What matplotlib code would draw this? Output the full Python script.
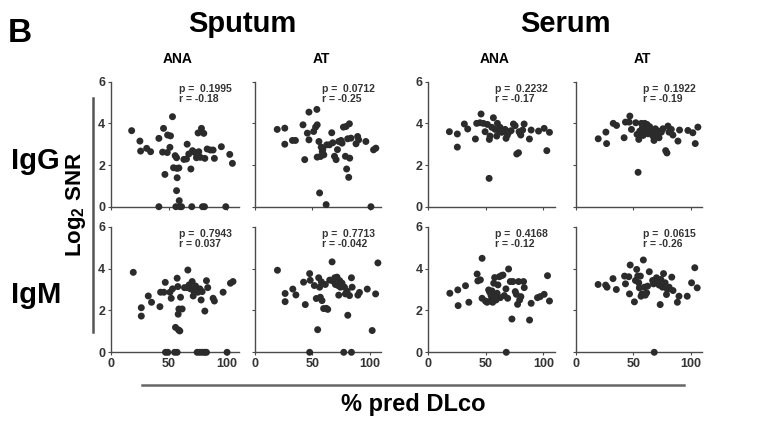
import matplotlib
matplotlib.use("Agg")
import matplotlib.pyplot as plt
from matplotlib.lines import Line2D

plt.rcParams["font.family"] = ["Liberation Sans", "DejaVu Sans"]
plt.rcParams["font.weight"] = "bold"
plt.rcParams["mathtext.fontset"] = "custom"
plt.rcParams["mathtext.rm"] = "Liberation Sans:bold"
plt.rcParams["mathtext.bf"] = "Liberation Sans:bold"

# ---- data: % predicted DLco (x) vs log2 SNR (y) ----
sputum_ana_igg_x = [18, 25.1, 25.7, 30.9, 34.3, 41.4, 41.4, 44.6, 45.4, 46.6, 48.9, 50.9, 51.4, 53.1,
                    54, 55.4, 56.6, 56.9, 57.1, 58.6, 56.6, 58.9, 56, 59.4, 60.9, 62.9, 65.7, 65.1,
                    67.1, 68.9, 69.7, 70.3, 72.3, 73.7, 75.1, 75.7, 77.1, 78, 78.9, 80.6, 80, 80.9,
                    82.9, 85.7, 88, 89.1, 95.1, 98.9, 102.3, 104.6, 48.6]
sputum_ana_igg_y = [3.65, 3.15, 2.67, 2.8, 2.64, 3.28, 0, 2.62, 3.76, 1.55, 3.44, 2.85, 3.4, 4.32,
                    1.87, 2.45, 2.35, 1.84, 1.39, 1.86, 0.77, 0.29, 0, 0, 0, 2.27, 3.0, 2.29,
                    2.53, 1.81, 0, 2.69, 2.6, 2.35, 3.54, 2.64, 2.37, 3.76, 0, 0, 3.52, 2.32,
                    2.77, 2.72, 2.72, 2.32, 2.88, 0, 2.51, 2.08, 2.6]

sputum_at_igg_x = [19.4, 26, 26, 32.7, 35.3, 41.9, 43.4, 45.7, 47.1, 47.1, 51.2, 52.9, 54, 54.3,
                   55.8, 54.3, 56.4, 57.2, 57.8, 58.7, 59.2, 60.1, 62.1, 62.7, 65, 67, 67.9, 69.4,
                   70.8, 72, 73.1, 75.1, 76, 77.2, 78.9, 79.5, 80, 81.8, 82.4, 82.7, 80.9, 83.8,
                   88.2, 89.6, 90.5, 96.8, 101.2, 103.5, 105.5]
sputum_at_igg_y = [3.71, 3.77, 3.0, 3.18, 3.18, 3.93, 2.26, 3.53, 3.21, 4.54, 3.61, 3.82, 4.67, 3.93,
                   3.13, 2.38, 0.66, 2.41, 2.86, 2.65, 2.74, 2.49, 0.1, 2.97, 2.97, 3.55, 3.07, 2.42,
                   2.26, 2.74, 3.13, 3.18, 3.05, 3.82, 2.42, 3.85, 1.81, 1.41, 3.98, 2.33, 3.26, 3.29,
                   3.02, 3.37, 3.21, 3.13, 0, 2.73, 2.81]

serum_ana_igg_x = [18.3, 25.2, 25.2, 31.3, 34.2, 40.9, 42, 44.9, 45.8, 49.3, 51.3, 52.8, 53, 53.6,
                   55.1, 56.5, 58, 59.4, 60, 60.9, 62.3, 63.8, 65.2, 66.7, 67.5, 68.7, 70.4, 71.9,
                   73.9, 75.4, 76.8, 78.3, 78.8, 80.3, 81.9, 83.2, 87.8, 89.3, 95.7, 100.6, 102.9,
                   105.2, 79.7, 47.8]
serum_ana_igg_y = [3.6, 3.49, 2.86, 3.97, 3.73, 3.25, 4.0, 4.03, 4.45, 3.6, 3.95, 1.36, 3.23, 3.39,
                   3.81, 4.27, 3.71, 3.39, 4.0, 3.68, 3.81, 3.57, 3.63, 3.71, 3.28, 3.44, 3.6, 3.65,
                   3.97, 3.89, 2.53, 2.59, 3.6, 3.44, 3.68, 3.97, 3.25, 3.68, 3.63, 3.76, 2.69,
                   3.57, 3.52, 4.0]

serum_at_igg_x = [19.4, 26.1, 26.7, 32.5, 35.4, 42, 43.2, 47, 46.4, 48.4, 52.2, 53.3, 54.2, 54.8,
                  55.7, 57.1, 58, 58.6, 60, 60.9, 62, 62.9, 64.3, 65.8, 67.2, 68.1, 69.3, 70.1,
                  71.6, 72.5, 74.5, 75.9, 78.3, 79.4, 80.3, 81.2, 83.2, 84.6, 89, 90.4, 97.7, 102,
                  104.1, 106.4, 73]
serum_at_igg_y = [3.26, 3.58, 3.03, 4.0, 3.9, 3.31, 4.06, 4.35, 4.06, 3.71, 4.03, 3.47, 1.65, 3.23,
                  3.63, 4.0, 3.79, 3.42, 4.0, 3.68, 3.95, 3.5, 3.84, 3.63, 3.39, 3.18, 3.74, 3.47,
                  3.63, 3.31, 3.58, 3.74, 2.69, 2.58, 3.87, 3.58, 3.71, 3.44, 3.15, 3.68, 3.66, 3.55,
                  3.03, 3.82, 3.55]

sputum_ana_igm_x = [19.4, 26.3, 26.3, 32.3, 35.1, 42.3, 42.9, 45.7, 46.9, 47.1, 49.1, 50.9, 52, 53.1,
                    54.9, 57.1, 55.7, 57.1, 57.7, 58.3, 59.4, 58, 58.6, 60, 61.4, 63.4, 65.7, 66.3,
                    67.4, 68.6, 70, 70.9, 71.4, 72.9, 74.3, 76.6, 78.9, 80.9, 82.3, 74.9, 76.6, 77.7,
                    78.6, 80.9, 82.3, 83.4, 88, 89.1, 96.6, 100, 102.9, 105.1]
sputum_ana_igm_y = [3.82, 2.13, 1.73, 2.69, 2.39, 2.18, 2.87, 2.87, 3.34, 0, 0, 2.87, 2.58, 3.03,
                    0, 0, 1.19, 3.54, 3.14, 1.07, 1.02, 1.82, 2.07, 2.63, 2.07, 3.09, 3.09, 3.93,
                    3.22, 3.03, 3.38, 2.69, 2.93, 3.17, 0, 0, 0, 0, 0, 2.87, 3.03, 2.5,
                    2.9, 1.97, 3.42, 3.09, 2.58, 2.45, 2.87, 0, 3.3, 3.38]

sputum_at_igm_x = [19.6, 26.3, 26.3, 33, 35.7, 42.4, 43.9, 47.7, 47.7, 48.2, 51.8, 53.5, 54.7, 55.6,
                   56.4, 57, 57.9, 58.5, 59.9, 61.4, 62.3, 63.5, 65.2, 67.3, 68.1, 69.6, 70.2, 71.6,
                   72.5, 73.1, 74, 76, 77.5, 78.1, 78.9, 80.4, 81, 82.5, 84.2, 84.2, 84.8, 89.8,
                   91.2, 98, 102.3, 105.3, 107.3, 74.6]
sputum_at_igm_y = [3.92, 2.81, 2.42, 3.02, 2.74, 3.35, 2.28, 3.76, 0, 3.44, 3.19, 2.57, 1.08, 3.56,
                   3.11, 2.63, 3.37, 2.47, 2.09, 3.24, 2.1, 2.05, 3.45, 4.32, 3.4, 3.56, 3.24, 3.59,
                   3.19, 2.73, 3.42, 3.3, 0, 3.11, 2.79, 2.92, 1.77, 2.71, 3.56, 0, 3.11, 2.73,
                   2.86, 3.02, 1.04, 2.79, 4.27, 3.11]

serum_ana_igm_x = [18.7, 25.6, 25.9, 32.3, 35.2, 42.4, 43, 45.2, 46.7, 46.7, 49.6, 51, 52.4, 53.3,
                   53.9, 54.5, 55.3, 55.9, 56.8, 57.3, 57.6, 58.8, 59.7, 60.5, 61.7, 62.5, 63.4, 64.8,
                   66, 67.4, 67.7, 68.9, 69.7, 71.2, 72.6, 73.5, 75.5, 76.4, 77.5, 78.4, 79.3, 80.4,
                   82.7, 83.3, 87.9, 89.3, 94.8, 97.1, 100.6, 103.5, 105.2]
serum_ana_igm_y = [2.82, 2.98, 2.23, 3.18, 2.39, 3.74, 3.41, 3.46, 4.49, 2.58, 2.45, 2.39, 2.98, 2.87,
                   2.45, 2.71, 2.93, 2.39, 3.3, 2.61, 3.57, 2.5, 2.82, 3.22, 3.61, 2.61, 3.66, 3.69,
                   2.71, 3.03, 0, 2.58, 3.98, 3.38, 1.59, 3.38, 2.9, 2.77, 2.29, 3.38, 2.5, 2.66,
                   3.38, 3.09, 1.54, 2.34, 2.61, 2.66, 2.77, 3.66, 2.45]

serum_at_igm_x = [19.3, 25.9, 27.1, 32.3, 35.2, 42.4, 43.2, 46.1, 46.7, 47.3, 51, 51.9, 53, 53.9,
                  54.8, 55.3, 56.2, 56.8, 57.6, 58.8, 59.7, 60.5, 61.7, 62.5, 64, 66.9, 67.7, 68.3,
                  69.2, 70.3, 71.2, 72.6, 73.5, 74.1, 75.5, 76.4, 77.8, 79, 79.8, 81.3, 83.6, 84.7,
                  88.5, 89.9, 97.1, 100.9, 103.7, 105.8]
serum_at_igm_y = [3.24, 3.21, 3.11, 3.52, 3.0, 3.64, 3.27, 3.61, 2.79, 4.17, 2.41, 3.43, 3.96, 3.64,
                  3.32, 3.08, 3.64, 2.68, 2.79, 4.41, 3.11, 2.73, 2.84, 3.16, 3.85, 3.43, 3.27, 0,
                  3.4, 3.56, 3.32, 3.21, 2.28, 3.48, 3.11, 3.76, 3.32, 2.76, 3.0, 3.11, 3.59, 2.95,
                  2.39, 2.68, 2.68, 3.32, 4.04, 3.08]

p_values = [["0.1995", "0.0712", "0.2232", "0.1922"],
            ["0.7943", "0.7713", "0.4168", "0.0615"]]
r_values = [["-0.18", "-0.25", "-0.17", "-0.19"],
            ["0.037", "-0.042", "-0.12", "-0.26"]]

panels = [[(sputum_ana_igg_x, sputum_ana_igg_y), (sputum_at_igg_x, sputum_at_igg_y),
           (serum_ana_igg_x, serum_ana_igg_y), (serum_at_igg_x, serum_at_igg_y)],
          [(sputum_ana_igm_x, sputum_ana_igm_y), (sputum_at_igm_x, sputum_at_igm_y),
           (serum_ana_igm_x, serum_ana_igm_y), (serum_at_igm_x, serum_at_igm_y)]]

column_titles = ["ANA", "AT", "ANA", "AT"]
group_titles = ["Sputum", "Serum"]
row_titles = ["IgG", "IgM"]
x_ticks = [0, 50, 100]
y_ticks = [0, 2, 4, 6]

W, H = 763, 428
fig = plt.figure(figsize=(W / 100, H / 100), dpi=100)

# panel geometry in pixels: (left, right) for columns, (top, bottom) for rows
col_px = [(110.7, 238.7), (255, 381), (428.3, 555), (576, 702)]
row_px = [(81.7, 206.7), (226.7, 352.3)]

dot_color = "#2b2b2b"
axis_color = "#4a4a4a"

for r, (top, bot) in enumerate(row_px):
    for c, (left, right) in enumerate(col_px):
        ax = fig.add_axes([left / W, 1 - bot / H, (right - left) / W, (bot - top) / H])
        xs, ys = panels[r][c]
        ax.scatter(xs, ys, s=25, color=dot_color, edgecolors="none", zorder=3, clip_on=False)
        ax.set_xlim(0, 110)
        ax.set_ylim(0, 6)
        for side in ("top", "right"):
            ax.spines[side].set_visible(False)
        for side in ("left", "bottom"):
            ax.spines[side].set_color(axis_color)
            ax.spines[side].set_linewidth(1.0)
        ax.set_xticks(x_ticks)
        ax.set_yticks(y_ticks)
        ax.tick_params(length=2.5, width=0.8, color=axis_color, labelsize=9,
                       labelcolor="#333333", pad=1.5)
        for lab in ax.get_xticklabels() + ax.get_yticklabels():
            lab.set_fontweight("bold")
        if r == 0:
            ax.set_xticklabels([])
        if c in (1, 3):
            ax.set_yticklabels([])
        ax.text(0.53, 0.985, f"p =  {p_values[r][c]}", transform=ax.transAxes,
                fontsize=7.5, fontweight="bold", color="#333333", va="top", ha="left")
        ax.text(0.53, 0.90, f"r = {r_values[r][c]}", transform=ax.transAxes,
                fontsize=7.5, fontweight="bold", color="#333333", va="top", ha="left")
        if r == 0:
            cx = (left + right) / 2 + 3
            fig.text(cx / W, 1 - 59 / H, column_titles[c], ha="center", va="center",
                     fontsize=10, fontweight="bold")

# group and row headings
fig.text(20 / W, 1 - 33 / H, "B", ha="center", va="center", fontsize=24, fontweight="bold")
fig.text(242 / W, 1 - 32 / H, group_titles[0], ha="center", va="baseline",
         fontsize=21, fontweight="bold")
fig.text(565 / W, 1 - 32 / H, group_titles[1], ha="center", va="baseline",
         fontsize=21, fontweight="bold")
fig.text(35 / W, 1 - 169 / H, row_titles[0], ha="center", va="baseline",
         fontsize=21, fontweight="bold")
fig.text(36 / W, 1 - 303 / H, row_titles[1], ha="center", va="baseline",
         fontsize=21, fontweight="bold")

# shared axis labels with bracket lines
fig.text(76 / W, 1 - 205 / H, r"Log$_\mathbf{2}$ SNR", rotation=90, ha="center", va="center",
         fontsize=16, fontweight="bold")
fig.add_artist(Line2D([93 / W, 93 / W], [1 - 98 / H, 1 - 332 / H], color="#555555", lw=1.8))
fig.add_artist(Line2D([142 / W, 684 / W], [1 - 385 / H, 1 - 385 / H], color="#666666", lw=1.8))
fig.text(413 / W, 1 - 405 / H, "% pred DLco", ha="center", va="center",
         fontsize=17, fontweight="bold")

fig.savefig("out.png", dpi=100)
